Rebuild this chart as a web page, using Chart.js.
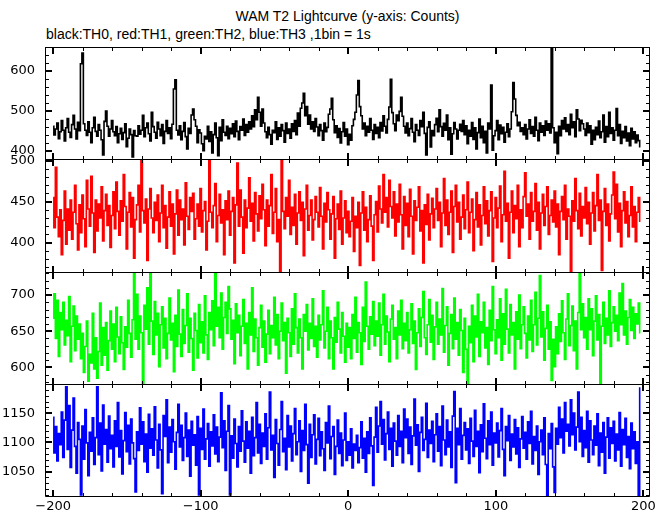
<!DOCTYPE html>
<html>
<head>
<meta charset="utf-8">
<script src="https://cdn.jsdelivr.net/npm/chart.js@4.4.0/dist/chart.umd.min.js"></script>
<style>
  html, body { margin: 0; padding: 0; background: #fff; }
  #wrap { position: relative; width: 669px; height: 515px; overflow: hidden; }
  .panel { position: absolute; left: 0; width: 669px; }
  .txt { position: absolute; font-family: "Liberation Sans", Arial, sans-serif; font-size: 14px; color: #000; white-space: nowrap; }
</style>
</head>
<body>
<div id="wrap">
  <div class="txt" style="left:45px;width:605px;text-align:center;top:8px">WAM T2 Lightcurve (y-axis: Counts)</div>
  <div class="txt" style="left:46px;top:26px">black:TH0, red:TH1, green:TH2, blue:TH3 ,1bin = 1s</div>
</div>
<script>
/* ============================================================
   DATA (1 bin = 1 s, first bin at t = -200)
============================================================ */
const BIN_START = -200;

const th0 = [
  462, 440, 455, 470, 431, 448, 476, 452, 425, 458, 481, 447, 434, 466, 489, 455, 430, 472, 451, 618,
  645, 468, 452, 439, 473, 447, 421, 458, 484, 449, 437, 466, 452, 428, 390, 474, 500, 462, 437, 455,
  476, 448, 438, 461, 421, 443, 457, 429, 446, 468, 411, 432, 455, 441, 385, 451, 438, 437, 463, 442,
  452, 489, 436, 458, 470, 443, 425, 497, 461, 447, 432, 472, 455, 438, 466, 419, 449, 476, 444, 458,
  431, 467, 555, 578, 452, 440, 463, 428, 449, 471, 436, 405, 457, 444, 490, 505, 478, 462, 421, 453,
  445, 418, 401, 437, 430, 462, 424, 448, 395, 441, 470, 433, 388, 459, 426, 478, 447, 439, 462, 431,
  457, 443, 468, 436, 475, 449, 428, 461, 452, 480, 439, 466, 447, 473, 455, 488, 461, 503, 478, 534,
  497, 462, 505, 470, 448, 433, 459, 441, 417, 452, 446, 473, 429, 458, 437, 466, 451, 422, 470, 444,
  455, 432, 468, 449, 476, 441, 495, 462, 507, 520, 544, 488, 511, 467, 490, 455, 473, 449, 481, 460,
  438, 466, 451, 427, 470, 448, 459, 492, 505, 532, 478, 446, 463, 434, 456, 420, 448, 471, 437, 455,
  416, 442, 427, 463, 479, 497, 540, 576, 511, 488, 455, 470, 438, 462, 447, 481, 452, 429, 466, 444,
  459, 433, 471, 450, 488, 462, 445, 479, 510, 579, 496, 468, 451, 490, 476, 499, 534, 487, 462, 445,
  470, 438, 456, 481, 447, 423, 466, 452, 439, 476, 461, 497, 444, 390, 459, 473, 410, 451, 438, 466,
  482, 448, 503, 461, 437, 469, 452, 490, 428, 458, 392, 443, 471, 455, 430, 452, 467, 449, 476, 441,
  463, 418, 452, 437, 471, 429, 458, 405, 446, 480, 433, 462, 421, 449, 395, 470, 455, 565, 402, 438,
  451, 476, 428, 465, 443, 459, 422, 447, 468, 436, 455, 498, 571, 530, 489, 463, 472, 449, 458, 441,
  466, 430, 455, 478, 444, 461, 437, 484, 452, 426, 470, 447, 463, 439, 475, 452, 468, 445, 700, 458,
  421, 447, 393, 462, 438, 476, 455, 483, 449, 466, 441, 492, 458, 473, 436, 503, 480, 451, 477, 468,
  455, 439, 470, 446, 463, 417, 452, 428, 459, 441, 475, 433, 448, 490, 422, 461, 436, 497, 444, 458,
  427, 452, 506, 438, 466, 419, 449, 433, 461, 425, 445, 413, 457, 430, 448, 421, 440, 426, 411
];

const th1 = [
  455, 418, 492, 431, 407, 440, 385, 427, 463, 398, 441, 415, 452, 404, 437, 470, 423, 391, 446, 412,
  458, 429, 395, 476, 441, 420, 481, 436, 388, 452, 414, 447, 430, 468, 402, 439, 459, 421, 445, 394,
  433, 462, 417, 474, 438, 409, 451, 426, 483, 444, 392, 437, 461, 419, 455, 381, 428, 446, 470, 413,
  500, 439, 424, 453, 378, 441, 466, 430, 412, 449, 427, 458, 401, 436, 470, 418, 445, 393, 431, 462,
  420, 447, 386, 435, 464, 409, 452, 428, 441, 397, 473, 432, 416, 455, 438, 460, 404, 429, 447, 420,
  466, 413, 439, 450, 391, 426, 500, 437, 418, 445, 472, 401, 433, 459, 424, 440, 385, 451, 428, 463,
  409, 438, 455, 375, 446, 497, 420, 464, 431, 387, 452, 418, 442, 479, 426, 448, 402, 461, 435, 414,
  457, 429, 471, 440, 396, 452, 420, 445, 483, 411, 437, 466, 401, 428, 365, 505, 438, 417, 455, 432,
  476, 410, 443, 421, 459, 398, 436, 462, 427, 449, 384, 441, 470, 415, 433, 452, 403, 428, 456, 437,
  419, 467, 432, 392, 448, 425, 461, 440, 404, 435, 456, 381, 429, 447, 416, 463, 398, 430, 451, 412,
  438, 407, 426, 455, 389, 432, 418, 449, 372, 436, 462, 415, 443, 401, 428, 457, 420, 378, 434, 450,
  413, 469, 441, 424, 483, 437, 455, 419, 476, 444, 430, 462, 408, 447, 425, 471, 434, 392, 456, 421,
  448, 407, 465, 432, 386, 451, 427, 443, 468, 414, 439, 375, 446, 422, 459, 403, 435, 454, 418, 441,
  466, 427, 449, 395, 436, 478, 421, 452, 410, 437, 463, 388, 444, 470, 425, 449, 404, 431, 458, 417,
  440, 474, 412, 437, 453, 390, 428, 461, 419, 446, 397, 433, 468, 423, 451, 408, 439, 462, 377, 430,
  455, 418, 442, 469, 401, 434, 487, 426, 448, 381, 437, 463, 412, 445, 429, 470, 395, 440, 418, 456,
  485, 432, 447, 404, 461, 426, 438, 472, 415, 449, 392, 436, 459, 421, 444, 468, 410, 433, 452, 425,
  463, 419, 447, 385, 438, 456, 428, 470, 404, 441, 432, 365, 451, 426, 478, 439, 417, 460, 408, 444,
  430, 467, 423, 449, 398, 436, 461, 414, 445, 483, 427, 452, 366, 438, 466, 421, 447, 402, 435, 458,
  486, 429, 471, 413, 448, 395, 439, 462, 424, 450, 407, 433, 468, 419, 444, 401, 437, 455, 426
];

const th2 = [
  668, 702, 640, 693, 615, 676, 652, 690, 631, 665, 644, 698, 608, 657, 685, 623, 671, 639, 660, 612,
  647, 593, 629, 664, 581, 618, 606, 675, 598, 641, 585, 622, 689, 603, 655, 617, 662, 596, 637, 678,
  625, 660, 608, 683, 642, 619, 670, 634, 597, 656, 628, 693, 647, 614, 666, 732, 639, 701, 625, 671,
  648, 578, 686, 653, 710, 632, 730, 664, 618, 691, 645, 675, 601, 659, 684, 627, 668, 612, 647, 696,
  638, 661, 594, 672, 629, 707, 646, 615, 680, 633, 658, 702, 621, 668, 640, 596, 675, 651, 613, 687,
  634, 663, 620, 699, 645, 611, 676, 652, 692, 630, 730, 657, 683, 641, 703, 625, 669, 690, 647, 712,
  681, 639, 665, 605, 688, 648, 672, 616, 657, 694, 633, 661, 598, 676, 645, 710, 622, 667, 641, 603,
  655, 686, 628, 664, 607, 646, 679, 619, 658, 641, 697, 631, 673, 612, 650, 689, 637, 662, 592, 668,
  648, 615, 681, 632, 702, 655, 620, 667, 641, 598, 673, 650, 687, 624, 661, 640, 695, 629, 657, 614,
  672, 638, 659, 706, 627, 650, 683, 612, 664, 641, 598, 669, 635, 690, 653, 620, 676, 643, 607, 661,
  628, 655, 612, 673, 640, 697, 621, 662, 648, 604, 683, 636, 718, 657, 625, 670, 646, 691, 630, 664,
  643, 689, 617, 659, 701, 632, 671, 649, 608, 667, 686, 639, 655, 612, 678, 645, 693, 626, 661, 637,
  676, 620, 652, 688, 633, 664, 597, 648, 681, 629, 669, 705, 641, 618, 659, 694, 635, 672, 611, 656,
  690, 632, 667, 645, 709, 621, 658, 684, 603, 647, 673, 626, 696, 639, 662, 617, 680, 651, 593, 668,
  625, 578, 657, 634, 686, 608, 671, 642, 701, 615, 663, 648, 690, 627, 655, 604, 679, 637, 712, 652,
  619, 666, 641, 695, 610, 674, 632, 708, 653, 620, 687, 645, 662, 598, 677, 639, 700, 626, 659, 684,
  647, 613, 671, 638, 693, 622, 659, 704, 631, 668, 727, 642, 677, 610, 654, 686, 625, 663, 582, 639,
  601, 656, 619, 674, 636, 692, 648, 611, 667, 702, 630, 658, 685, 623, 664, 598, 676, 730, 652, 688,
  641, 669, 625, 695, 652, 681, 616, 664, 699, 638, 673, 577, 657, 690, 633, 668, 645, 706, 629, 662,
  684, 650, 672, 637, 703, 659, 716, 645, 678, 632, 669, 694, 651, 683, 640, 674, 660, 689, 648
];

const th3 = [
  1143, 1082, 1127, 1068, 1115, 1096, 1152, 1074, 1138, 1195, 1088, 1163, 1057, 1121, 1176, 1093, 1047, 1134, 1105, 1010,
  1128, 1071, 1156, 1099, 1043, 1117, 1085, 1142, 1062, 1108, 1195, 1079, 1133, 1051, 1164, 1097, 1122, 1066, 1145, 1089,
  1112, 1058, 1137, 1093, 1168, 1075, 1120, 1046, 1103, 1151, 1084, 1129, 1063, 1140, 1099, 1072, 1015, 1118, 1086, 1159,
  1097, 1135, 1067, 1114, 1049, 1148, 1090, 1123, 1078, 1161, 1104, 1056, 1131, 1087, 1012, 1146, 1110, 1173, 1065, 1126,
  1083, 1139, 1101, 1054, 1117, 1165, 1092, 1129, 1069, 1108, 1150, 1076, 1121, 1042, 1136, 1095, 1113, 1061, 1144, 1010,
  1124, 1088, 1157, 1071, 1106, 1132, 1059, 1118, 1094, 1147, 1080, 1126, 1067, 1109, 1185, 1091, 1137, 1052, 1119, 1163,
  1010, 1111, 1073, 1140, 1098, 1058, 1127, 1085, 1154, 1102, 1066, 1135, 1090, 1119, 1047, 1143, 1077, 1108, 1168, 1082,
  1131, 1064, 1116, 1093, 1149, 1071, 1125, 1186, 1087, 1112, 1040, 1139, 1098, 1061, 1122, 1170, 1084, 1107, 1053, 1146,
  1092, 1128, 1068, 1115, 1158, 1079, 1101, 1137, 1050, 1120, 1086, 1165, 1096, 1030, 1131, 1074, 1113, 1147, 1063, 1105,
  1141, 1077, 1118, 1089, 1052, 1134, 1099, 1162, 1072, 1110, 1127, 1045, 1093, 1138, 1081, 1116, 1060, 1104, 1150, 1069,
  1101, 1078, 1123, 1056, 1097, 1086, 1112, 1065, 1091, 1135, 1073, 1107, 1049, 1118, 1081, 1142, 1094, 1026, 1109, 1160,
  1083, 1128, 1170, 1097, 1139, 1070, 1115, 1152, 1088, 1124, 1059, 1133, 1102, 1078, 1146, 1093, 1119, 1065, 1157, 1108,
  1140, 1081, 1126, 1062, 1111, 1174, 1095, 1130, 1050, 1117, 1143, 1086, 1105, 1167, 1074, 1121, 1098, 1136, 1067, 1113,
  1149, 1085, 1127, 1060, 1162, 1104, 1079, 1138, 1092, 1118, 1057, 1145, 1187, 1031, 1124, 1096, 1158, 1071, 1112, 1134,
  1087, 1123, 1064, 1141, 1102, 1076, 1155, 1093, 1119, 1048, 1130, 1084, 1166, 1107, 1072, 1137, 1096, 1152, 1061, 1116,
  1099, 1133, 1075, 1120, 1158, 1088, 1043, 1127, 1103, 1146, 1069, 1114, 1092, 1139, 1080, 1125, 1057, 1106, 1144, 1090,
  1117, 1071, 1135, 1098, 1153, 1063, 1110, 1086, 1128, 1045, 1101, 1121, 1079, 1142, 1062, 1008, 1115, 1089, 1132, 1058,
  1014, 1124, 1097, 1160, 1108, 1140, 1082, 1168, 1119, 1131, 1094, 1173, 1113, 1150, 1087, 1126, 1186, 1101, 1143, 1076,
  1120, 1091, 1153, 1066, 1137, 1104, 1079, 1128, 1095, 1149, 1060, 1116, 1083, 1134, 1047, 1109, 1142, 1073, 1125, 1098,
  1136, 1068, 1114, 1087, 1151, 1059, 1122, 1096, 1141, 1074, 1110, 1055, 1133, 1089, 1118, 1064, 1101, 1008, 1193
];

// tick labels
const xTickLabels = [-200, -100, 0, 100, 200];
const y0Labels = [400, 500, 600];
const y1Labels = [400, 450, 500];
const y2Labels = [600, 650, 700];
const y3Labels = [1050, 1100, 1150];

/* ============================================================
   LAYOUT
============================================================ */
const X_MIN = -205.5;
const X_MAX = 204.5;
const PLOT_LEFT = 45;
const PLOT_RIGHT = 650;
const PAD = 12;

const panels = [
  { values: th0, color: "#000000", min: 380, max: 660, labels: y0Labels, minor: 20, top: 47, bottom: 159 },
  { values: th1, color: "#ff0000", min: 364, max: 502, labels: y1Labels, minor: 10, top: 159, bottom: 272 },
  { values: th2, color: "#00ff00", min: 577, max: 732, labels: y2Labels, minor: 10, top: 272, bottom: 384 },
  { values: th3, color: "#0000ff", min: 1008, max: 1200, labels: y3Labels, minor: 10, top: 384, bottom: 496 },
];

const minus = (v) => String(v).replace("-", "\u2212");

function stepsBetween(min, max, step) {
  const out = [];
  for (let v = Math.ceil(min / step) * step; v <= max; v += step) out.push(v);
  return out;
}

/* frame + inward ticks, PGPLOT style */
const frame = {
  id: "frame",
  afterDraw(chart) {
    const { ctx, chartArea: a, scales } = chart;
    const o = chart.options.plugins.frame;
    const x = scales.x, y = scales.y;
    ctx.save();
    ctx.strokeStyle = "#000";
    ctx.lineWidth = 1;
    ctx.beginPath();
    ctx.moveTo(a.left + 0.5, a.top + 0.5);
    ctx.lineTo(a.right - 0.5, a.top + 0.5);
    ctx.lineTo(a.right - 0.5, a.bottom + 0.5);
    ctx.lineTo(a.left + 0.5, a.bottom + 0.5);
    ctx.closePath();
    ctx.stroke();

    const tick = (x1, y1, x2, y2, w) => {
      ctx.lineWidth = w;
      ctx.beginPath();
      ctx.moveTo(x1, y1);
      ctx.lineTo(x2, y2);
      ctx.stroke();
    };

    // x ticks (top & bottom)
    stepsBetween(X_MIN, X_MAX, 20).forEach((v) => {
      const major = xTickLabels.includes(v);
      const len = major ? 7 : 4;
      const px = Math.round(x.getPixelForValue(v)) + (major ? 0 : 0.5);
      tick(px, a.top, px, a.top + len, major ? 2 : 1);
      tick(px, a.bottom + 1, px, a.bottom + 1 - len, major ? 2 : 1);
    });

    // y ticks (left & right)
    stepsBetween(o.min, o.max, o.minor).forEach((v) => {
      const major = o.labels.includes(v);
      const len = major ? 7 : 4;
      const py = Math.round(y.getPixelForValue(v)) + (major ? 0 : 0.5);
      tick(a.left, py, a.left + len, py, major ? 2 : 1);
      tick(a.right, py, a.right - len, py, major ? 2 : 1);
    });
    ctx.restore();
  },
};

const tickFont = { family: "DejaVu Sans", size: 13 };

function makePanel(p, idx) {
  const wrap = document.getElementById("wrap");
  const isLast = idx === panels.length - 1;
  const h = p.bottom - p.top;
  const canvasH = PAD + h + (isLast ? 24 : PAD);

  const div = document.createElement("div");
  div.className = "panel";
  div.style.top = p.top - PAD + "px";
  div.style.height = canvasH + "px";
  const cv = document.createElement("canvas");
  cv.width = 669;
  cv.height = canvasH;
  div.appendChild(cv);
  wrap.appendChild(div);

  new Chart(cv, {
    type: "line",
    data: {
      datasets: [
        {
          data: p.values.map((v, i) => ({ x: BIN_START + i, y: v })),
          borderColor: p.color,
          borderWidth: 1.6,
          pointRadius: 0,
          stepped: "middle",
          fill: false,
        },
      ],
    },
    options: {
      responsive: false,
      animation: false,
      devicePixelRatio: 1,
      layout: { padding: { top: PAD, bottom: isLast ? 0 : PAD, left: 0, right: 669 - PLOT_RIGHT } },
      plugins: {
        legend: { display: false },
        tooltip: { enabled: false },
        frame: { min: p.min, max: p.max, labels: p.labels, minor: p.minor },
      },
      scales: {
        x: {
          type: "linear",
          min: X_MIN,
          max: X_MAX,
          display: isLast,
          grid: { display: false, drawTicks: false },
          border: { display: false },
          afterBuildTicks: (s) => { s.ticks = xTickLabels.map((v) => ({ value: v })); },
          afterFit: (s) => {
            s.height = isLast ? 24 : 0;
            s.paddingLeft = 0;
            s.paddingRight = 0;
          },
          ticks: {
            padding: 3,
            font: tickFont,
            color: "#000",
            maxRotation: 0,
            autoSkip: false,
            callback: (v) => minus(v),
          },
        },
        y: {
          min: p.min,
          max: p.max,
          grid: { display: false, drawTicks: false },
          border: { display: false },
          afterBuildTicks: (s) => { s.ticks = p.labels.map((v) => ({ value: v })); },
          afterFit: (s) => { s.width = PLOT_LEFT; s.paddingTop = 0; s.paddingBottom = 0; },
          ticks: {
            padding: 10,
            font: tickFont,
            color: "#000",
            autoSkip: false,
            callback: (v) => minus(v),
          },
        },
      },
    },
    plugins: [frame],
  });
}

panels.forEach(makePanel);
</script>
</body>
</html>
